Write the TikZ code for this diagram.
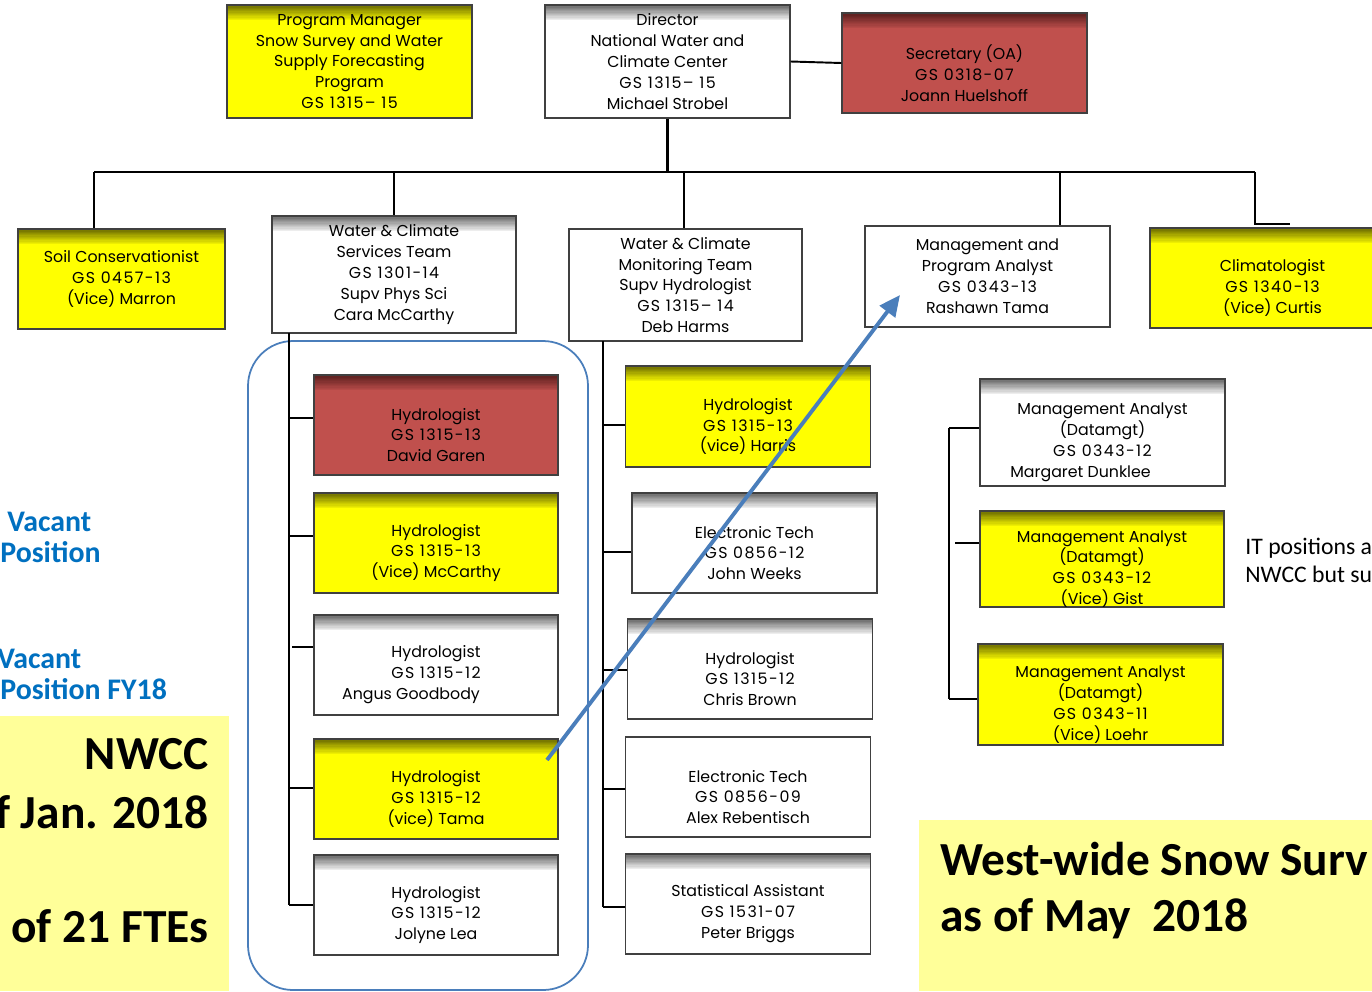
\documentclass[tikz,border=0pt]{standalone}
\usepackage{fontspec}
\setmainfont{Poppins}
\newfontfamily\calfont{Carlito}
\newcommand\gsline[1]{{\addfontfeatures{LetterSpace=9}#1}}
\usetikzlibrary{arrows.meta}
\definecolor{boxyellow}{HTML}{FFFF00}
\definecolor{boxred}{HTML}{C0504D}
\definecolor{darkred}{HTML}{5C1F1E}
\definecolor{darkolive}{HTML}{6E6E00}
\definecolor{shadegray}{HTML}{6A6A6A}
\definecolor{edgegray}{HTML}{404040}
\definecolor{paleyellow}{HTML}{FFFF99}
\definecolor{vacblue}{HTML}{0070C0}
\definecolor{arrowblue}{HTML}{4A7EBB}
\begin{document}
\begin{tikzpicture}[x=0.02cm,y=-0.02cm,
  boxfont/.style={font=\fontsize{9}{11.9}\selectfont},
  box/.style={draw=edgegray, line width=0.8pt, minimum width=4.9cm, minimum height=2cm,
    inner sep=0pt, align=center, boxfont},
  % darker band fading down from the top edge of a box
  topshade/.style 2 args={fill=#2, path picture={
    \foreach \i [evaluate=\i as \p using {int(100-8*\i)}] in {0,...,11}
      \fill[#1!\p!#2] ([yshift=-\i*0.025cm]path picture bounding box.north west)
        rectangle ([yshift=-\i*0.025cm-0.03cm]path picture bounding box.north east);}},
  ybox/.style={box, topshade={darkolive}{boxyellow}},
  rbox/.style={box, topshade={darkred}{boxred}},
  wbox/.style={box, topshade={shadegray}{white}},
  pbox/.style={box, fill=white},
  txt/.style={align=center, inner sep=0pt, boxfont},
  tx/.style={label={[txt,yshift=-0.2cm]center:{#1}}},
  conn/.style={draw=black, line width=1.1pt},
  mainconn/.style={draw=black, line width=2pt},
  vacant/.style={anchor=base west, inner sep=0pt, text=vacblue, font=\calfont\bfseries\fontsize{17}{20}\selectfont},
  bigtitle/.style={inner sep=0pt, font=\calfont\bfseries\fontsize{27}{33}\selectfont},
  note/.style={anchor=base west, inner sep=0pt, font=\calfont\fontsize{13.5}{16}\selectfont},
  group/.style={draw=arrowblue, line width=1pt, rounded corners=0.9cm},
  pointer/.style={draw=arrowblue, line width=2.2pt, -{Triangle[length=0.42cm,width=0.38cm]}}
]
\useasboundingbox (0,0) rectangle (1372,991);
\clip (0,0) rectangle (1372,991);
\fill[white] (0,0) rectangle (1372,991);

% title panels
\fill[paleyellow] (0,716) rectangle (229,991);
\fill[paleyellow] (919,820) rectangle (1372,991);

% top level
\node[ybox, minimum height=2.26cm] (pm) at (349.5,61.5)
  {Program Manager\\Snow Survey and Water\\Supply Forecasting\\Program\\\gsline{GS 1315– 15}};
\node[wbox, minimum height=2.26cm] (dir) at (667.5,61.5)
  {Director\\National Water and\\Climate Center\\\gsline{GS 1315– 15}\\Michael Strobel};
\node[rbox, tx={Secretary (OA)\\\gsline{GS 0318-07}\\Joann Huelshoff}] (sec) at (964.5,63) {};

% second level
\node[ybox, minimum width=4.14cm] (soil) at (121.5,279)
  {Soil Conservationist\\\gsline{GS 0457-13}\\(Vice) Marron};
\node[wbox, minimum width=4.88cm, minimum height=2.34cm] (wcst) at (394,274.5)
  {Water \& Climate\\Services Team\\\gsline{GS 1301-14}\\Supv Phys Sci\\Cara McCarthy};
\node[pbox, minimum width=4.66cm, minimum height=2.24cm] (wcmt) at (685.5,285)
  {Water \& Climate\\Monitoring Team\\Supv Hydrologist\\\gsline{GS 1315– 14}\\Deb Harms};
\node[pbox, minimum height=2.02cm] (mpa) at (987.5,276.5)
  {Management and\\Program Analyst\\\gsline{GS 0343-13}\\Rashawn Tama};
\node[ybox, tx={Climatologist\\\gsline{GS 1340-13}\\(Vice) Curtis}] (clim) at (1272.5,278) {};

% services team
\draw[group] (248,341) rectangle (588,990);
\node[rbox, minimum width=4.88cm, tx={Hydrologist\\\gsline{GS 1315-13}\\David Garen}] (garen) at (436,425) {};
\node[ybox, minimum width=4.88cm, tx={Hydrologist\\\gsline{GS 1315-13}\\(Vice) McCarthy}] (mccarthy) at (436,543) {};
\node[wbox, minimum width=4.88cm, tx={Hydrologist\\\gsline{GS 1315-12}\\Angus Goodbody\kern1cm}] (goodbody) at (436,665) {};
\node[ybox, minimum width=4.88cm, tx={Hydrologist\\\gsline{GS 1315-12}\\(vice) Tama}] (tama) at (436,789) {};
\node[wbox, minimum width=4.88cm, tx={Hydrologist\\\gsline{GS 1315-12}\\Jolyne Lea}] (lea) at (436,905) {};

% monitoring team
\node[ybox, minimum height=2.02cm, tx={Hydrologist\\\gsline{GS 1315-13}\\(vice) Harris}] (harris) at (748,416.5) {};
\node[wbox, tx={Electronic Tech\\\gsline{GS 0856-12}\\John Weeks}] (weeks) at (754.5,543) {};
\node[wbox, tx={Hydrologist\\\gsline{GS 1315-12}\\Chris Brown}] (brown) at (750,669) {};
\node[pbox, tx={Electronic Tech\\\gsline{GS 0856-09}\\Alex Rebentisch}] (reb) at (748,787) {};
\node[wbox, tx={Statistical Assistant\\\gsline{GS 1531-07}\\Peter Briggs}] (briggs) at (748,904) {};

% data management
\node[wbox, minimum height=2.14cm, tx={Management Analyst\\(Datamgt)\\\gsline{GS 0343-12}\\Margaret Dunklee\kern0.88cm}] (dunklee) at (1102.5,432.5) {};
\node[ybox, minimum width=4.88cm, minimum height=1.92cm, tx={Management Analyst\\(Datamgt)\\\gsline{GS 0343-12}\\(Vice) Gist}] (gist) at (1102,559) {};
\node[ybox, minimum height=2.02cm, tx={Management Analyst\\(Datamgt)\\\gsline{GS 0343-11}\\(Vice) Loehr}] (loehr) at (1100.5,694.5) {};

% connectors from the director
\coordinate (busL) at (94,172);
\coordinate (busR) at (1255,172);
\coordinate (busM) at (1060,172);
\coordinate (climstub) at (1290,224);
\draw[conn] (dir.east) -- (sec.west);
\draw[mainconn] (dir.south) -- (dir.south |- busL);
\draw[conn] (busL) -- (busR);
\draw[conn] (busL) -- (busL |- soil.north);
\draw[conn] (wcst.north |- busL) -- (wcst.north);
\draw[conn] (684,172) -- (684,172 |- wcmt.north);
\draw[conn] (busM) -- (busM |- mpa.north);
\draw[conn] (busR) |- (climstub);

% services team tree
\coordinate (tl) at (289,333);
\coordinate (tlEnd) at (289,905);
\draw[conn] (tl) -- (tlEnd);
\draw[conn] (tl |- 0,418) -- (garen.west |- 0,418);
\draw[conn] (tl |- 0,536) -- (mccarthy.west |- 0,536);
\draw[conn] (292,647) -- (goodbody.west |- 0,647);
\draw[conn] (tl |- 0,788) -- (tama.west |- 0,788);
\draw[conn] (tlEnd) -- (lea.west |- tlEnd);

% monitoring team tree
\coordinate (tm) at (603,341);
\coordinate (tmEnd) at (603,907);
\draw[conn] (tm) -- (tmEnd);
\draw[conn] (tm |- 0,425) -- (harris.west |- 0,425);
\draw[conn] (tm |- 0,552) -- (weeks.west |- 0,552);
\draw[conn] (tm |- 0,670) -- (brown.west |- 0,670);
\draw[conn] (tm |- 0,789) -- (reb.west |- 0,789);
\draw[conn] (tmEnd) -- (briggs.west |- tmEnd);

% data management tree
\coordinate (tr) at (949,428);
\coordinate (trEnd) at (949,699);
\draw[conn] (tr) -- (trEnd);
\draw[conn] (tr) -- (dunklee.west |- tr);
\draw[conn] (955,543) -- (gist.west |- 0,543);
\draw[conn] (trEnd) -- (loehr.west |- trEnd);

% side notes
\node[vacant] (vac1a) at (7,531) {Vacant};
\node[vacant] (vac1b) at (0,562) {Position};
\node[vacant] (vac2a) at (-3,668) {Vacant};
\node[vacant] (vac2b) at (0,699) {Position FY18};
\node[note] (it1) at (1245,554) {IT positions a};
\node[note] (it2) at (1245,582) {NWCC but su};

\node[bigtitle, anchor=base east] (t1) at (209,769) {NWCC};
\node[bigtitle, anchor=base east] (t2) at (209,828) {f Jan. 2018};
\node[bigtitle, anchor=base east] (t3) at (209,942) {of 21 FTEs};
\node[bigtitle, anchor=base west] (t4) at (940,875) {West-wide Snow Surv};
\node[bigtitle, anchor=base west] (t5) at (940,931) {as of May\ \ 2018};

% reassignment pointer
\coordinate (arrS) at (547,760);
\coordinate (arrE) at (900,295);
\draw[pointer] (arrS) -- (arrE);
\end{tikzpicture}
\end{document}
